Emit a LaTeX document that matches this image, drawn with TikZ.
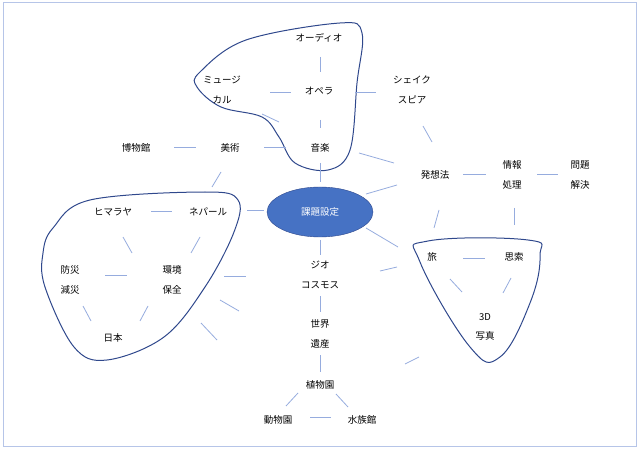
\documentclass[tikz,border=0pt]{standalone}
\usepackage{fontspec}
\setmainfont{Noto Sans CJK JP}
\definecolor{linkblue}{RGB}{150,172,222}
\definecolor{blobblue}{RGB}{47,72,140}
\definecolor{coreblue}{RGB}{70,114,196}
\begin{document}
\begin{tikzpicture}[x=1pt,y=-1pt]
\tikzstyle{every node}+=[inner sep=0pt,font=\fontsize{9.5}{11}\selectfont]
\tikzstyle{link}=[linkblue,line width=0.8pt]
\tikzstyle{blob}=[blobblue,line width=1pt]
\tikzstyle{two}=[align=center,font=\fontsize{9.5}{19.5}\selectfont]
\useasboundingbox (0,0) rectangle (640,449);
\draw [linkblue!70,line width=1pt] (3,3) rectangle (636,446);
% groups
\draw [blob] plot [smooth cycle,tension=0.6] coordinates {(200,72) (246,40) (340,23) (362,33) (357,83) (350,150) (328,170) (295,163) (279,137) (262,117) (221,107) (197,87)};
\draw [blob] plot [smooth cycle,tension=0.6] coordinates {(53,228) (90,200) (205,192) (238,200) (234,232) (205,287) (164,337) (107,360) (74,347) (45,287) (43,253)};
\draw [blob] plot [smooth cycle,tension=0.7] coordinates {(428,241) (528,240) (540,256) (530,303) (500,357) (470,347) (420,262)};
% centre
\draw [fill=coreblue,draw=blobblue] (320,212) ellipse (53 and 25);
\node [white] (core) at (320,212) {課題設定};
% words
\node (audio) at (319,38) {オーディオ};
\node [two] (musical) at (222,90) {ミュージ\\カル};
\node (opera) at (319,91) {オペラ};
\node [two] (shakes) at (412,90) {シェイク\\スピア};
\node (museum) at (136,148) {博物館};
\node (art) at (230,148) {美術};
\node (music) at (320,148) {音楽};
\node (idea) at (435,175) {発想法};
\node [two] (info) at (512,175) {情報\\処理};
\node [two] (solve) at (580,175) {問題\\解決};
\node (himalaya) at (113,212) {ヒマラヤ};
\node (nepal) at (208,212) {ネパール};
\node [two] (disaster) at (70,280) {防災\\減災};
\node [two] (env) at (172,280) {環境\\保全};
\node (japan) at (113,338) {日本};
\node [two] (geo) at (320,275) {ジオ\\コスモス};
\node [two] (heritage) at (320,334) {世界\\遺産};
\node (botanic) at (320,385) {植物園};
\node (zoo) at (278,420) {動物園};
\node (aquarium) at (362,420) {水族館};
\node (travel) at (432,257) {旅};
\node (thought) at (514,257) {思索};
\node [two] (photo) at (485,327) {3D\\写真};
% links
\draw [link] (320,57) -- (320,72);
\draw [link] (270,92) -- (291,92);
\draw [link] (355,92) -- (376,92);
\draw [link] (262,114) -- (279,122);
\draw [link] (320,120) -- (320,128);
\draw [link] (174,147) -- (196,147);
\draw [link] (264,147) -- (286,147);
\draw [link] (320,163) -- (320,182);
\draw [link] (423,126) -- (432,142);
\draw [link] (359,153) -- (394,163);
\draw [link] (366,194) -- (397,185);
\draw [link] (463,174) -- (486,174);
\draw [link] (537,174) -- (558,174);
\draw [link] (221,172) -- (212,187);
\draw [link] (247,210) -- (264,210);
\draw [link] (151,211) -- (172,211);
\draw [link] (514,208) -- (514,225);
\draw [link] (439,210) -- (434,228);
\draw [link] (366,228) -- (398,247);
\draw [link] (200,237) -- (191,253);
\draw [link] (123,237) -- (132,253);
\draw [link] (105,275) -- (127,275);
\draw [link] (320,240) -- (320,255);
\draw [link] (224,276) -- (246,276);
\draw [link] (380,271) -- (397,267);
\draw [link] (463,258) -- (485,258);
\draw [link] (450,279) -- (462,292);
\draw [link] (511,278) -- (503,293);
\draw [link] (220,300) -- (239,311);
\draw [link] (201,323) -- (217,340);
\draw [link] (83,306) -- (91,321);
\draw [link] (148,306) -- (140,321);
\draw [link] (320,296) -- (320,312);
\draw [link] (320,355) -- (320,372);
\draw [link] (419,357) -- (405,364);
\draw [link] (298,393) -- (286,406);
\draw [link] (336,394) -- (348,407);
\draw [link] (310,417) -- (331,417);
\end{tikzpicture}
\end{document}
